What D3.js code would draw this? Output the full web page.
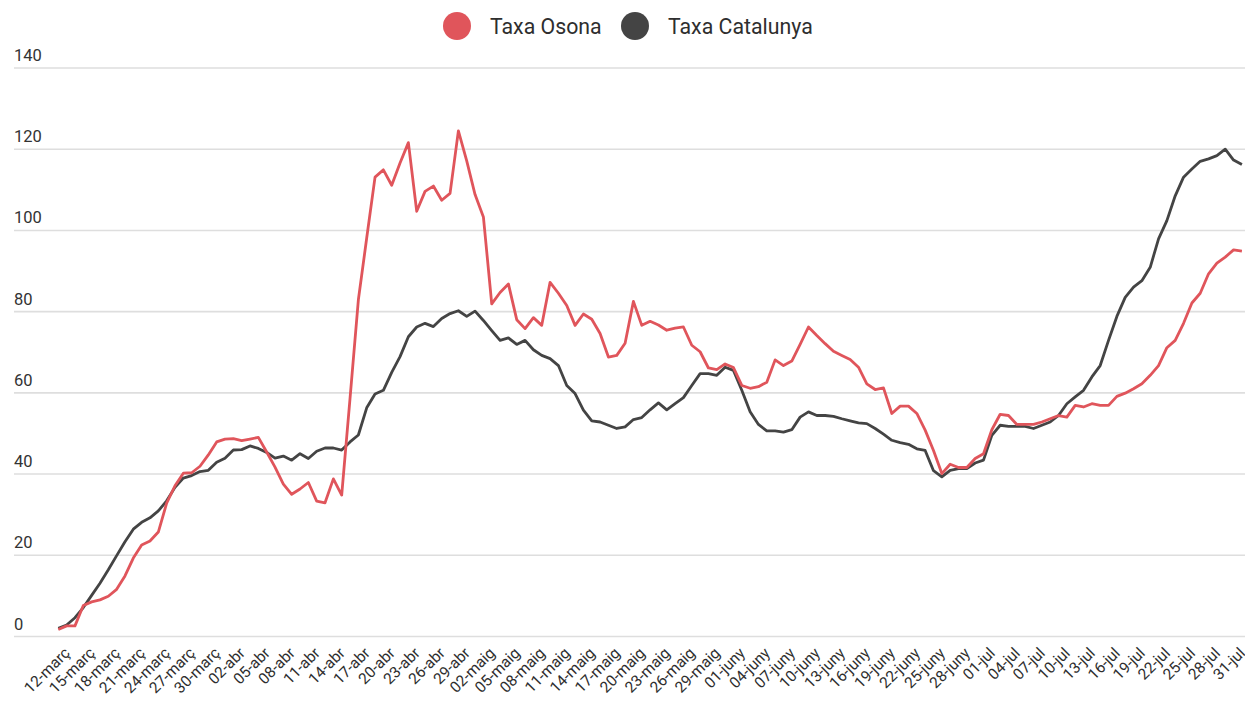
<!DOCTYPE html>
<html>
<head>
<meta charset="utf-8">
<script src="https://cdn.jsdelivr.net/npm/d3@7"></script>
<style>
  body { margin: 0; background: #fff; }
  svg { display: block; font-family: Roboto, "Noto Sans", sans-serif; }
</style>
</head>
<body>
<div id="chart"></div>
<script>
// tick labels on the x axis (every 3 days, starting 12-març)
var tickLabels = ["12-març","15-març","18-març","21-març","24-març","27-març","30-març",
  "02-abr","05-abr","08-abr","11-abr","14-abr","17-abr","20-abr","23-abr","26-abr","29-abr",
  "02-maig","05-maig","08-maig","11-maig","14-maig","17-maig","20-maig","23-maig","26-maig","29-maig",
  "01-juny","04-juny","07-juny","10-juny","13-juny","16-juny","19-juny","22-juny","25-juny","28-juny",
  "01-jul","04-jul","07-jul","10-jul","13-jul","16-jul","19-jul","22-jul","25-jul","28-jul","31-jul"];

var yTicks = [0, 20, 40, 60, 80, 100, 120, 140];

var seriesNames = ["Taxa Osona", "Taxa Catalunya"];
var seriesColors = ["#e0555b", "#444444"];

// daily values from 12-març to 01-ago
var osona = [1.6,2.5,2.5,7.5,8.4,8.9,9.8,11.5,14.8,19.2,22.4,23.4,25.6,32.7,37.0,40.1,40.2,41.8,44.6,47.8,
  48.5,48.6,48.1,48.5,48.9,45.3,41.6,37.4,34.9,36.2,37.8,33.2,32.8,38.7,34.7,58.5,82.8,98,113,114.8,
  111,116.5,121.5,104.6,109.5,110.8,107.3,109,124.4,117,108.7,103.2,81.8,84.6,86.7,77.9,75.7,78.4,76.5,87.1,
  84.4,81.4,76.5,79.3,78,74.5,68.7,69.1,72.1,82.4,76.5,77.5,76.6,75.3,75.8,76.1,71.6,70,66,65.6,
  67,66.1,61.7,61,61.4,62.5,68,66.6,67.7,71.8,76.1,74,72,70.1,69.1,68.1,66.2,62.1,60.7,61.1,
  54.8,56.6,56.6,54.8,50.7,45.7,40,42.3,41.5,41.5,43.7,44.9,50.8,54.6,54.3,52.1,52.1,52.1,52.7,53.5,
  54.3,53.9,56.8,56.4,57.2,56.8,56.8,59,59.8,60.9,62.1,64.2,66.6,71,72.8,77,82,84.4,89.2,91.8,
  93.3,95.1,94.8];

var catalunya = [1.9,2.7,4.5,7,10,13,16.3,19.8,23.2,26.3,28,29.1,30.8,33.3,36.6,38.9,39.5,40.5,40.8,42.8,
  43.8,45.8,45.9,46.8,46.2,45.2,43.8,44.3,43.3,44.9,43.7,45.5,46.3,46.3,45.8,47.8,49.5,56.2,59.6,60.5,
  64.9,68.8,73.7,76.1,77,76.2,78.2,79.4,80.1,78.7,80,77.7,75.2,72.8,73.4,71.8,72.8,70.5,69.1,68.3,
  66.6,61.7,59.7,55.6,53,52.7,51.9,51.1,51.5,53.3,53.8,55.7,57.4,55.7,57.2,58.7,61.7,64.6,64.6,64.2,
  66.2,65.4,60.5,55.2,52.1,50.5,50.5,50.2,50.8,53.9,55.2,54.3,54.3,54.1,53.5,53,52.5,52.3,51.1,49.7,
  48.2,47.6,47.2,46.1,45.7,40.7,39.2,40.8,41.2,41.2,42.6,43.3,49.4,51.9,51.6,51.6,51.6,51.1,51.9,52.7,
  54.3,57.2,58.9,60.5,63.8,66.6,72.8,78.7,83.4,85.9,87.5,90.8,97.8,102.3,108.4,113,115,116.9,117.5,118.3,
  119.9,117.2,116.1];

var width = 1245, height = 701;

var svg = d3.select("#chart")
  .append("svg")
    .attr("width", width)
    .attr("height", height);

// scales: one step per day
var x = d3.scaleLinear()
    .domain([0, osona.length - 1])
    .range([58.3, 1241.9]);

var y = d3.scaleLinear()
    .domain([0, 140])
    .range([636, 67.5]);

// gridlines + y labels
var grid = svg.append("g")
    .attr("transform", "translate(14,0)")
    .call(d3.axisLeft(y).tickValues(yTicks).tickSize(0).tickFormat(d3.format("d")));
grid.select(".domain").remove();
grid.selectAll(".tick line")
    .attr("x1", 0)
    .attr("x2", width - 14)
    .attr("stroke", "#dedede")
    .attr("stroke-width", 1.6);
grid.selectAll(".tick text")
    .attr("x", 0)
    .attr("dy", "-7")
    .attr("text-anchor", "start")
    .attr("fill", "#333")
    .style("font-size", "16.5px")
    .style("font-family", "Roboto, sans-serif");

// x axis labels, rotated
var xTickValues = tickLabels.map(function(d, k) { return k * 3; });
var xAxis = svg.append("g")
    .attr("transform", "translate(0,636)")
    .call(d3.axisBottom(x).tickValues(xTickValues).tickSize(0)
      .tickFormat(function(d, k) { return tickLabels[k]; }));
xAxis.select(".domain").remove();
xAxis.selectAll(".tick text")
    .attr("y", 0)
    .attr("dy", 0)
    .attr("text-anchor", "end")
    .attr("transform", "translate(12,18) rotate(-45)")
    .attr("fill", "#2e2e2e")
    .style("font-size", "15.5px")
    .style("font-family", "Roboto, sans-serif");

// lines
var line = d3.line()
    .x(function(d, i) { return x(i); })
    .y(function(d) { return y(d); });

[catalunya, osona].forEach(function(s, k) {
  svg.append("path")
      .datum(s)
      .attr("fill", "none")
      .attr("stroke", k === 0 ? seriesColors[1] : seriesColors[0])
      .attr("stroke-width", 2.8)
      .attr("stroke-linejoin", "round")
      .attr("d", line);
});

// legend
var legendX = [457, 635];
var legend = svg.append("g");
seriesNames.forEach(function(name, k) {
  legend.append("circle")
      .attr("cx", legendX[k])
      .attr("cy", 26)
      .attr("r", 14)
      .attr("fill", seriesColors[k]);
  legend.append("text")
      .attr("x", legendX[k] + 33)
      .attr("y", 33.5)
      .attr("fill", "#2e2e2e")
      .style("font-size", "21.3px")
      .text(name);
});
</script>
</body>
</html>
